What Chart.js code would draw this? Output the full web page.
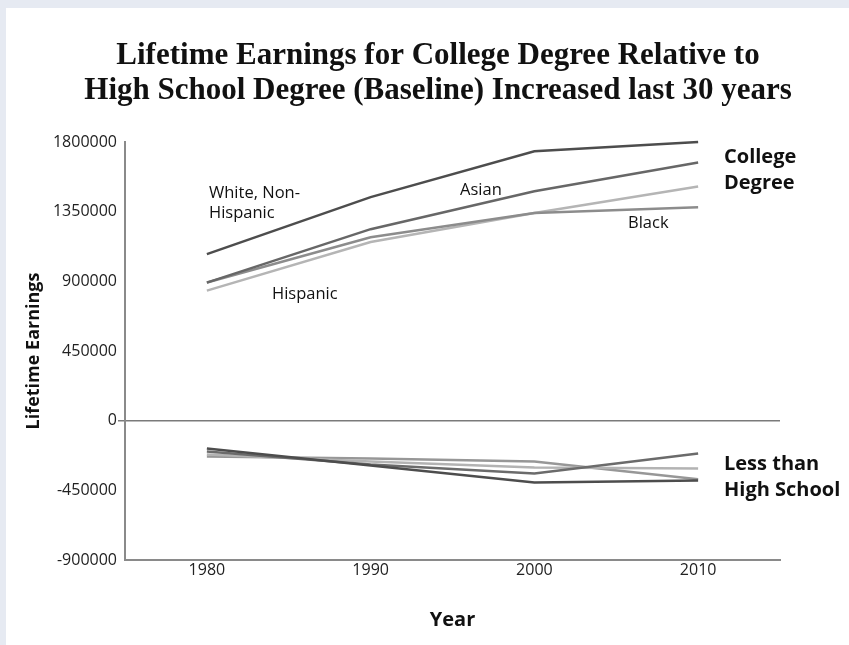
<!DOCTYPE html>
<html>
<head>
<meta charset="utf-8">
<title>Lifetime Earnings</title>
<script src="https://cdn.jsdelivr.net/npm/chart.js@4.4.1/dist/chart.umd.min.js"></script>
<style>
  html, body { margin: 0; padding: 0; background: #e6eaf2; }
  #wrap { position: absolute; left: 6px; top: 8px; width: 843px; height: 637px; background: #fff; }
</style>
</head>
<body>
<div id="wrap"><canvas id="chart" width="843" height="637"></canvas></div>
<script>
const years = [1980, 1990, 2000, 2010];
const yTicks = [-900000, -450000, 0, 450000, 900000, 1350000, 1800000];

// college degree minus high school baseline
const collegeWhite    = [1076000, 1444000, 1740000, 1800000];
const collegeAsian    = [892000, 1237000, 1482000, 1668000];
const collegeBlack    = [892000, 1185000, 1341000, 1378000];
const collegeHispanic = [840000, 1154000, 1341000, 1513000];

// less than high school minus baseline
const lessWhite    = [-180000, -289000, -399000, -386000];
const lessBlack    = [-199000, -283000, -341000, -212000];
const lessAsian    = [-219000, -264000, -302000, -309000];
const lessHispanic = [-231000, -244000, -264000, -379000];

const titleLines = [
  'Lifetime Earnings for College Degree Relative to',
  'High School Degree (Baseline) Increased last 30 years'
];

// free text drawn on the canvas (pixel spots, canvas coords)
const notes = [
  { lines: ['White, Non-', 'Hispanic'], x: 203, y: 185, gap: 20, font: '16.5px "Open Sans"' },
  { lines: ['Asian'], x: 454, y: 182, gap: 20, font: '16.5px "Open Sans"' },
  { lines: ['Black'], x: 622, y: 215, gap: 20, font: '16.5px "Open Sans"' },
  { lines: ['Hispanic'], x: 266, y: 286, gap: 20, font: '16.5px "Open Sans"' },
  { lines: ['College', 'Degree'], x: 718, y: 149, gap: 26, font: 'bold 20px "Open Sans"' },
  { lines: ['Less than', 'High School'], x: 718, y: 456, gap: 26, font: 'bold 20px "Open Sans"' }
];

function toPoints(vals) {
  return years.map((yr, i) => ({ x: yr, y: vals[i] }));
}

function line(vals, color) {
  return {
    data: toPoints(vals),
    borderColor: color,
    borderWidth: 2.5,
    pointRadius: 0,
    tension: 0,
    fill: false,
    clip: false
  };
}

const textPlugin = {
  id: 'notes',
  afterDraw(chart) {
    const ctx = chart.ctx;
    ctx.save();
    ctx.fillStyle = '#111';
    ctx.textBaseline = 'middle';
    ctx.textAlign = 'center';
    ctx.font = 'bold 31px "Liberation Serif"';
    titleLines.forEach((t, i) => ctx.fillText(t, 432, 48 + i * 35));

    ctx.textAlign = 'left';
    notes.forEach(n => {
      ctx.font = n.font;
      n.lines.forEach((t, i) => ctx.fillText(t, n.x, n.y + i * n.gap));
    });
    ctx.restore();
  }
};

new Chart(document.getElementById('chart'), {
  type: 'line',
  data: {
    datasets: [
      line(collegeWhite, '#4d4d4d'),
      line(collegeAsian, '#676767'),
      line(collegeBlack, '#8c8c8c'),
      line(collegeHispanic, '#b5b5b5'),
      line(lessWhite, '#4d4d4d'),
      line(lessBlack, '#6b6b6b'),
      line(lessAsian, '#b3b3b3'),
      line(lessHispanic, '#979797')
    ]
  },
  options: {
    responsive: false,
    animation: false,
    layout: { padding: { top: 134, right: 69, left: 0, bottom: 0 } },
    plugins: {
      legend: { display: false },
      tooltip: { enabled: false }
    },
    scales: {
      x: {
        type: 'linear',
        min: 1975,
        max: 2015,
        afterBuildTicks: scale => { scale.ticks = years.map(v => ({ value: v })); },
        afterFit: scale => { scale.height = 85; },
        grid: { display: false, drawTicks: false },
        border: { color: '#8a8a8a', width: 2 },
        ticks: {
          padding: 1,
          color: '#222',
          font: { family: 'Open Sans', size: 16 },
          callback: v => String(v)
        },
        title: {
          display: true,
          text: 'Year',
          color: '#111',
          font: { family: 'Open Sans', size: 20, weight: 'bold' },
          padding: { top: 0, bottom: 13 }
        }
      },
      y: {
        type: 'linear',
        min: yTicks[0],
        max: yTicks[yTicks.length - 1],
        afterBuildTicks: scale => { scale.ticks = yTicks.map(v => ({ value: v })); },
        afterFit: scale => { scale.width = 119; },
        grid: {
          drawOnChartArea: true,
          tickLength: 7,
          lineWidth: 1.5,
          color: c => (c.tick && c.tick.value === 0 ? '#7a7a7a' : 'rgba(0,0,0,0)'),
          tickColor: c => (c.tick && c.tick.value === 0 ? '#7a7a7a' : 'rgba(0,0,0,0)')
        },
        border: { color: '#8a8a8a', width: 2 },
        ticks: {
          padding: 1,
          color: '#222',
          font: { family: 'Open Sans', size: 16 },
          callback: v => String(v)
        },
        title: {
          display: true,
          text: 'Lifetime Earnings',
          color: '#111',
          font: { family: 'Open Sans', size: 18, weight: 'bold' },
          padding: { top: 17, bottom: 0 }
        }
      }
    }
  },
  plugins: [textPlugin]
});
</script>
</body>
</html>
